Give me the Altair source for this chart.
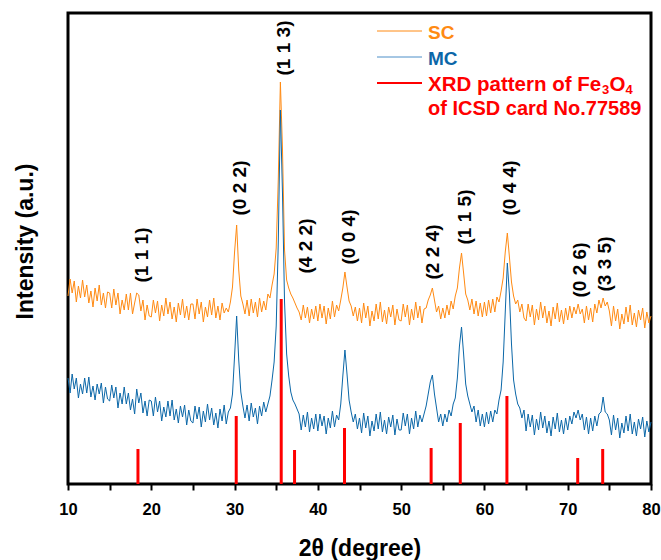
import altair as alt
import pandas as pd

# 2-theta sampling grid (degrees), 0.25 deg steps from 10 to 80
two_theta = [round(10 + 0.25 * i, 2) for i in range(281)]

# MC sample (blue), intensity in a.u.
mc = [
    106, 91, 110, 95, 106, 86, 100, 90, 106, 91, 107, 87, 98, 84, 100, 90, 101, 81, 97, 85,
    83, 99, 86, 97, 76, 91, 80, 97, 80, 91, 74, 85, 70, 95, 81, 91, 71, 83, 68, 84,
    83, 68, 87, 72, 83, 63, 77, 67, 83, 68, 84, 64, 75, 61, 78, 67, 79, 59, 74, 63,
    61, 78, 65, 77, 57, 73, 62, 80, 64, 76, 59, 71, 56, 75, 63, 79, 60, 72, 76, 90,
    128, 168, 124, 92, 78, 66, 79, 63, 81, 67, 76, 60, 78, 68, 82, 72, 80, 88, 104, 122,
    158, 242, 374, 292, 182, 130, 108, 92, 84, 80, 75, 70, 54, 69, 57, 72, 52, 66, 55, 70,
    53, 70, 58, 68, 50, 66, 56, 73, 57, 69, 64, 80, 108, 134, 110, 84, 72, 62, 70, 55,
    66, 51, 71, 56, 68, 48, 63, 53, 70, 55, 72, 52, 64, 50, 67, 57, 69, 49, 65, 54,
    54, 71, 58, 70, 50, 66, 55, 73, 57, 69, 62, 70, 78, 90, 102, 109, 90, 76, 62, 70,
    58, 70, 62, 74, 68, 80, 86, 106, 138, 157, 130, 100, 88, 80, 72, 78, 62, 74, 58, 70,
    57, 72, 60, 73, 62, 74, 70, 84, 94, 122, 172, 221, 190, 140, 104, 90, 80, 76, 66, 74,
    53, 70, 57, 69, 49, 65, 54, 72, 56, 68, 51, 63, 48, 67, 55, 71, 52, 64, 50, 66,
    54, 68, 60, 72, 66, 74, 64, 70, 54, 67, 50, 66, 53, 68, 58, 70, 72, 87, 72, 70,
    64, 49, 69, 54, 66, 46, 61, 51, 68, 53, 70, 50, 62, 48, 65, 55, 67, 47, 63, 52,
    62,
]

# SC sample (orange), intensity in a.u.
sc = [
    188, 205, 191, 203, 182, 198, 186, 204, 187, 199, 181, 193, 177, 196, 183, 199, 179, 191, 176, 192,
    191, 176, 195, 179, 191, 170, 184, 174, 190, 174, 191, 170, 181, 191, 189, 173, 184, 164, 179, 168,
    167, 184, 171, 183, 163, 179, 168, 186, 170, 182, 165, 177, 162, 181, 169, 185, 166, 178, 164, 180,
    180, 165, 185, 170, 182, 162, 177, 167, 184, 169, 186, 166, 178, 164, 181, 171, 176, 172, 182, 197,
    232, 259, 214, 188, 180, 170, 184, 168, 185, 171, 182, 167, 186, 172, 183, 174, 190, 186, 199, 210,
    236, 305, 402, 336, 234, 204, 196, 190, 186, 181, 176, 172, 164, 179, 166, 177, 161, 175, 165, 178,
    163, 180, 166, 178, 160, 176, 165, 183, 167, 179, 173, 184, 196, 212, 197, 183, 178, 168, 177, 163,
    176, 161, 181, 166, 178, 158, 173, 163, 180, 165, 182, 162, 174, 160, 177, 167, 179, 159, 175, 164,
    163, 180, 167, 179, 159, 175, 164, 182, 166, 178, 161, 175, 176, 184, 189, 196, 184, 172, 178, 165,
    176, 166, 179, 169, 183, 175, 188, 196, 216, 231, 211, 190, 184, 174, 185, 170, 183, 168, 181, 167,
    182, 168, 184, 171, 185, 172, 187, 182, 193, 206, 232, 251, 227, 202, 188, 180, 184, 172, 180, 166,
    163, 180, 167, 179, 159, 175, 164, 182, 166, 178, 161, 173, 158, 177, 165, 181, 162, 174, 160, 176,
    164, 178, 166, 177, 170, 180, 170, 175, 161, 178, 164, 176, 162, 180, 171, 184, 176, 186, 178, 182,
    173, 158, 178, 163, 175, 155, 170, 160, 177, 162, 179, 159, 171, 157, 174, 164, 176, 156, 172, 161,
    168,
]

# Reference pattern (ICSD 77589) stick positions and heights
ref_pos = [18.4, 30.2, 35.6, 37.2, 43.2, 53.6, 57.1, 62.7, 71.2, 74.2]
ref_int = [35, 68, 185, 34, 56, 36, 61, 88, 26, 35]

# Miller-index annotations
hkl = ["(1 1 1)", "(0 2 2)", "(1 1 3)", "(4 2 2)", "(0 0 4)",
       "(2 2 4)", "(1 1 5)", "(0 4 4)", "(0 2 6)", "(3 3 5)"]
hkl_x = [18.9, 30.65, 35.95, 38.6, 43.75, 53.8, 57.65, 63.05, 71.45, 74.45]
hkl_y = [229, 296, 436, 238, 247, 232, 267, 296, 214, 220]

assert len(mc) == len(two_theta) and len(sc) == len(two_theta)

FONT = "Liberation Sans"
ORANGE = "#FF8A12"
BLUE = "#0B67A8"
RED = "#FF0000"

df_mc = pd.DataFrame({"tt": two_theta, "I": mc})
df_sc = pd.DataFrame({"tt": two_theta, "I": sc})
df_ref = pd.DataFrame({"tt": ref_pos, "I": ref_int})
df_hkl = pd.DataFrame({"tt": hkl_x, "I": hkl_y, "label": hkl})

xscale = alt.Scale(domain=[10, 80], nice=False, zero=False)
yscale = alt.Scale(domain=[0, 471], nice=False, zero=False)

xaxis = alt.Axis(
    values=[10, 15, 20, 25, 30, 35, 40, 45, 50, 55, 60, 65, 70, 75, 80],
    labelExpr="datum.value % 10 == 0 ? datum.label : ''",
    grid=False, domain=False, ticks=True, tickSize=6, tickWidth=2,
    tickColor="black", labelFont=FONT, labelFontSize=16.5,
    labelFontWeight="bold", labelColor="black", labelPadding=11,
    labelFlush=False, labelOverlap=False,
    title="2θ (degree)", titleFont=FONT, titleFontSize=23,
    titleFontWeight="bold", titleColor="black", titleBaseline="alphabetic",
    titleY=71, titleX=291.5, titleAlign="center",
)
yaxis = alt.Axis(
    grid=False, domain=False, ticks=False, labels=False,
    title="Intensity (a.u.)", titleFont=FONT, titleFontSize=23,
    titleFontWeight="bold", titleColor="black", titleAngle=270,
    titleBaseline="alphabetic", titleAlign="center", titleX=-36, titleY=228,
)

sc_line = alt.Chart(df_sc).mark_line(color=ORANGE, strokeWidth=1).encode(
    x=alt.X("tt:Q", scale=xscale, axis=xaxis),
    y=alt.Y("I:Q", scale=yscale, axis=yaxis),
)
mc_line = alt.Chart(df_mc).mark_line(color=BLUE, strokeWidth=1).encode(
    x=alt.X("tt:Q", scale=xscale),
    y=alt.Y("I:Q", scale=yscale),
)
sticks = alt.Chart(df_ref).mark_rule(color=RED, strokeWidth=3).encode(
    x=alt.X("tt:Q", scale=xscale),
    y=alt.Y("I:Q", scale=yscale),
    y2=alt.datum(0),
)
labels = alt.Chart(df_hkl).mark_text(
    angle=270, align="center", baseline="middle", font=FONT,
    fontSize=19, fontWeight="bold", color="black",
).encode(
    x=alt.X("tt:Q", scale=xscale),
    y=alt.Y("I:Q", scale=yscale),
    text="label:N",
)

# Custom legend (pixel positions inside the plot area)
dummy = pd.DataFrame({"k": [0]})


def seg(color, y, width):
    return alt.Chart(dummy).mark_rule(color=color, strokeWidth=width).encode(
        x=alt.value(309), x2=alt.value(354), y=alt.value(y)
    )


def txt(s, x, y, color, size):
    return alt.Chart(dummy).mark_text(
        text=s, align="left", baseline="alphabetic", font=FONT,
        fontSize=size, fontWeight="bold", color=color,
    ).encode(x=alt.value(x), y=alt.value(y))


legend = alt.layer(
    seg(ORANGE, 18, 1), txt("SC", 360, 26, ORANGE, 19),
    seg("#4C8FC8", 44, 1), txt("MC", 360, 52, BLUE, 19),
    seg(RED, 70, 2),
    txt("XRD pattern of Fe", 360, 78, RED, 20.5),
    txt("3", 534, 81, RED, 13),
    txt("O", 541.5, 78, RED, 20.5),
    txt("4", 557.5, 81, RED, 13),
    txt("of ICSD card No.77589", 360, 102, RED, 20),
)

chart = alt.layer(sc_line, mc_line, sticks, labels, legend).properties(
    width=583, height=471,
    padding={"left": 68, "top": 13, "right": 10, "bottom": 76},
    autosize=alt.AutoSizeParams(type="none"),
    background="white",
).configure_view(stroke="black", strokeWidth=3)

chart.save("out.html", embed_options={"renderer": "svg", "actions": False})
